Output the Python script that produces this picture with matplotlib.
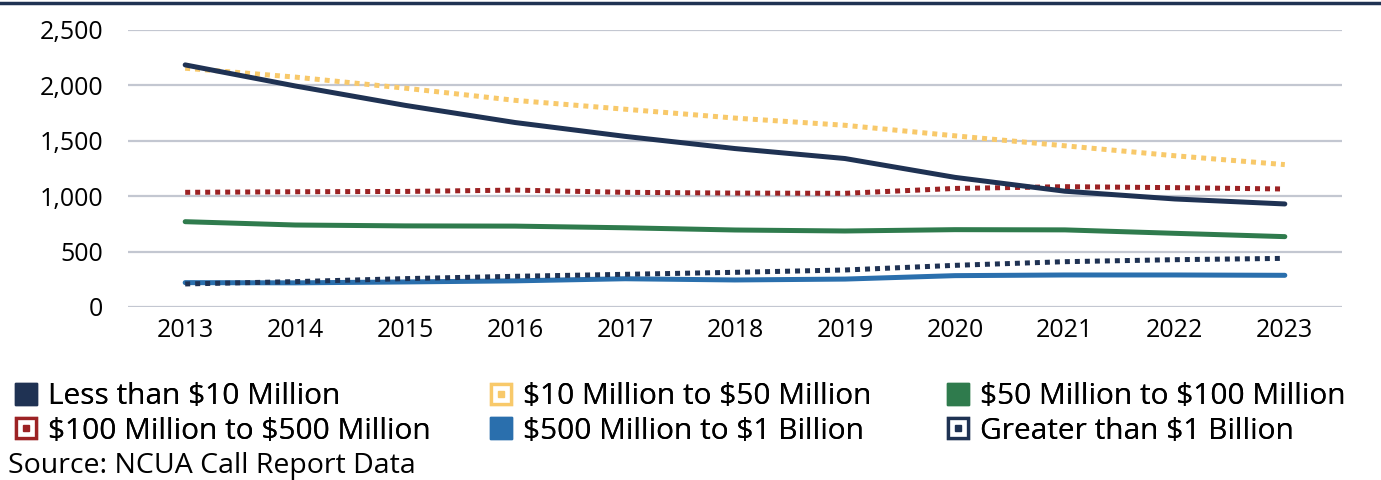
import matplotlib
matplotlib.use("Agg")
import matplotlib.pyplot as plt
from matplotlib.lines import Line2D
from matplotlib.legend_handler import HandlerTuple

plt.rcParams['font.family'] = ['Open Sans', 'DejaVu Sans']

years = ['2013', '2014', '2015', '2016', '2017', '2018', '2019', '2020', '2021', '2022', '2023']

less_10m = [2185, 1995, 1820, 1665, 1540, 1430, 1340, 1170, 1045, 975, 930]
m10_50 = [2155, 2075, 1975, 1865, 1785, 1705, 1640, 1545, 1455, 1365, 1285]
m50_100 = [770, 740, 732, 730, 715, 695, 686, 698, 696, 665, 635]
m100_500 = [1035, 1040, 1043, 1055, 1035, 1028, 1026, 1070, 1086, 1077, 1065]
m500_1b = [220, 218, 226, 236, 255, 244, 252, 283, 289, 289, 286]
over_1b = [208, 229, 256, 277, 295, 313, 334, 376, 409, 427, 439]

labels = ['Less than \\$10 Million', '\\$10 Million to \\$50 Million', '\\$50 Million to \\$100 Million',
          '\\$100 Million to \\$500 Million', '\\$500 Million to \\$1 Billion', 'Greater than \\$1 Billion']

navy = '#1f3253'
yellow = '#f8c96a'
green = '#2f7b4d'
red = '#9c2224'
blue = '#2a6fad'

fig = plt.figure(figsize=(13.81, 4.8), dpi=100)
ax = fig.add_axes([128 / 1381, 1 - 307 / 480, (1342 - 128) / 1381, 277 / 480])

x = list(range(len(years)))
dot = (0, (1, 1))
ax.plot(x, m500_1b, color=blue, lw=3.6, solid_capstyle='round', zorder=3)
ax.plot(x, over_1b, color=navy, lw=3.6, linestyle=dot, dash_capstyle='butt', zorder=4)
ax.plot(x, m50_100, color=green, lw=3.6, solid_capstyle='round', zorder=3)
ax.plot(x, m100_500, color=red, lw=3.6, linestyle=dot, dash_capstyle='butt', zorder=4)
ax.plot(x, m10_50, color=yellow, lw=3.6, linestyle=dot, dash_capstyle='butt', zorder=3)
ax.plot(x, less_10m, color=navy, lw=3.6, solid_capstyle='round', zorder=4)

ax.set_xlim(-0.52, len(years) - 0.48)
ax.set_ylim(0, 2500)
ax.set_yticks([0, 500, 1000, 1500, 2000, 2500])
ax.set_yticklabels(['0', '500', '1,000', '1,500', '2,000', '2,500'])
ax.set_xticks(x)
ax.set_xticklabels(years)
ax.tick_params(length=0, labelsize=18, colors='black', pad=8)
ax.tick_params(axis='y', pad=18)
ax.grid(axis='y', color='#c3c7d1', lw=1.6)
ax.set_axisbelow(True)
for s in ax.spines.values():
    s.set_visible(False)

# top rule
fig.add_artist(Line2D([0, 1], [1 - 3 / 480, 1 - 3 / 480], color=navy, lw=2.5, transform=fig.transFigure))


def solid_handle(c):
    return Line2D([], [], marker='s', ls='none', markersize=16, markerfacecolor=c, markeredgecolor=c)


def dotted_handle(c):
    outer = Line2D([], [], marker='s', ls='none', markersize=14.5, markerfacecolor='white',
                   markeredgecolor=c, markeredgewidth=2.4)
    inner = Line2D([], [], marker='s', ls='none', markersize=4.5, markerfacecolor=c, markeredgecolor=c)
    return (outer, inner)


handles = [solid_handle(navy), dotted_handle(yellow), solid_handle(green),
           dotted_handle(red), solid_handle(blue), dotted_handle(navy)]

col_x = [11, 486, 943]
for i in range(3):
    leg = fig.legend([handles[i], handles[i + 3]], [labels[i], labels[i + 3]],
                     loc='upper left', bbox_to_anchor=(col_x[i] / 1381, 1 - 382 / 480),
                     frameon=False, fontsize=21.5, handlelength=1.0, handletextpad=0.25,
                     labelspacing=0.19, borderpad=0, borderaxespad=0,
                     handler_map={tuple: HandlerTuple(ndivide=1, pad=0)})
    fig.add_artist(leg)

fig.text(8 / 1381, 1 - 466 / 480, 'Source: NCUA Call Report Data', fontsize=20.5, va='center', ha='left')

fig.savefig('out.png', dpi=100)
